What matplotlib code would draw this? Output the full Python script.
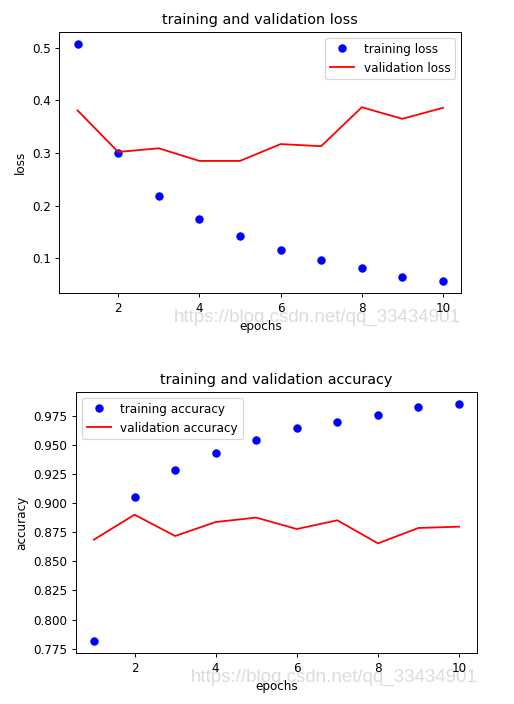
import matplotlib
matplotlib.use("Agg")
import matplotlib.pyplot as plt

epochs = [1, 2, 3, 4, 5, 6, 7, 8, 9, 10]
train_loss = [0.508, 0.300, 0.218, 0.175, 0.143, 0.115, 0.097, 0.081, 0.065, 0.056]
val_loss = [0.381, 0.302, 0.309, 0.285, 0.285, 0.317, 0.313, 0.387, 0.365, 0.386]
train_acc = [0.7813, 0.9049, 0.9284, 0.9430, 0.9544, 0.9647, 0.9699, 0.9759, 0.9822, 0.9853]
val_acc = [0.8686, 0.8900, 0.8717, 0.8837, 0.8875, 0.8777, 0.8852, 0.8654, 0.8786, 0.8797]
watermark = "https://blog.csdn.net/qq_33434901"

DPI = 86.5
W, H = 514, 704
fig = plt.figure(figsize=(W / DPI, H / DPI), dpi=DPI)

def px_axes(left, top, right, bottom):
    return fig.add_axes([left / W, (H - bottom) / H, (right - left) / W, (bottom - top) / H])

ax1 = px_axes(59.3, 31.7, 461.3, 293.3)
ax1.plot(epochs, train_loss, 'bo', label='training loss')
ax1.plot(epochs, val_loss, 'r', label='validation loss')
ax1.set_title('training and validation loss')
ax1.set_xlabel('epochs')
ax1.set_ylabel('loss')
ax1.legend(loc='upper right')

ax2 = px_axes(75.7, 391.7, 477.3, 653.3)
ax2.plot(epochs, train_acc, 'bo', label='training accuracy')
ax2.plot(epochs, val_acc, 'r', label='validation accuracy')
ax2.set_title('training and validation accuracy')
ax2.set_xlabel('epochs')
ax2.set_ylabel('accuracy')
ax2.legend(loc='upper left')

for xc, yc in [(317, 317), (334, 677)]:
    fig.text(xc / W, (H - yc) / H, watermark, fontsize=15.6, color='#dcdcdc',
             family='Liberation Sans', ha='center', va='center', zorder=-1)

fig.savefig('out.png', dpi=DPI)
